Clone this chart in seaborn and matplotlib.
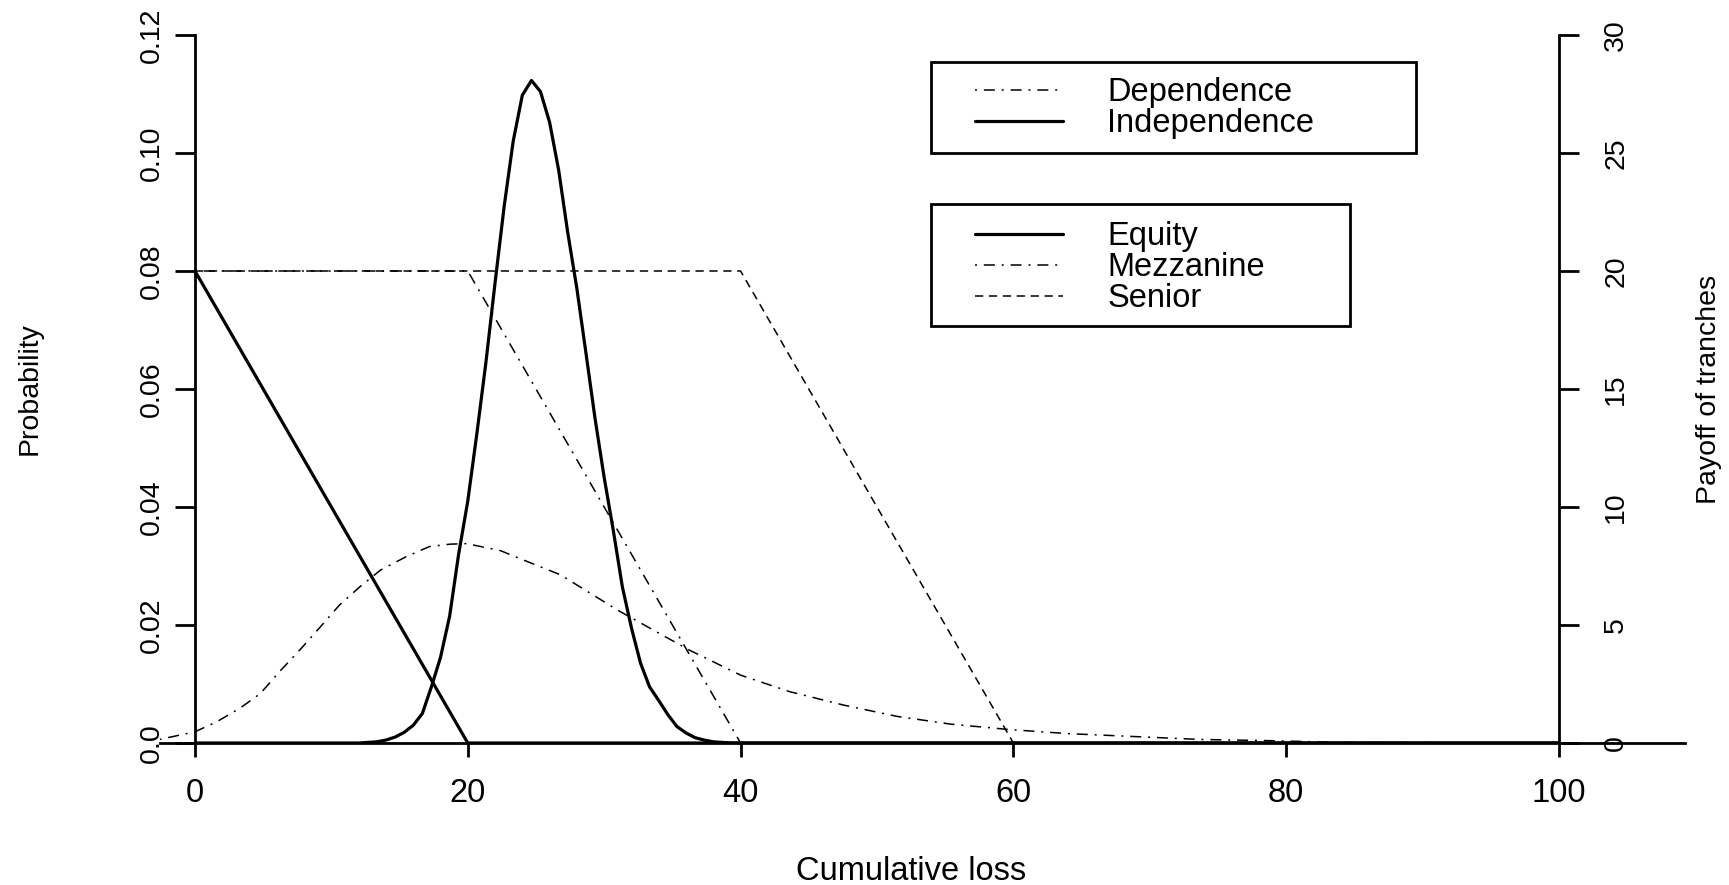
"""
Loss distribution vs. tranche payoffs
=====================================
Probability of the cumulative loss under dependence / independence
(left axis) together with the payoff of the CDO tranches (right axis).
"""

import matplotlib
matplotlib.use("Agg")  # no display
import matplotlib.pyplot as plt
from matplotlib.patches import Rectangle
import seaborn as sns

# ─── Data ─────────────────────────────────────────────────────────────
IND_LOSS = [0, 12.0, 12.67, 13.33, 14.0, 14.67, 15.33, 16.0, 16.67, 17.33,
            18.0, 18.67, 19.33, 20.0, 20.67, 21.33, 22.0, 22.67, 23.33, 24.0,
            24.67, 25.33, 26.0, 26.67, 27.33, 28.0, 28.67, 29.33, 30.0, 30.67,
            31.33, 32.0, 32.67, 33.33, 34.0, 34.67, 35.33, 36.0, 36.67, 37.33,
            38.0, 38.67, 39.33, 100]
IND_PROB = [0, 0.0, 0.0001, 0.0002, 0.0005, 0.0010, 0.0018, 0.0030, 0.0050, 0.0095,
            0.0145, 0.0215, 0.0320, 0.0410, 0.0525, 0.0645, 0.0780, 0.0910, 0.1020, 0.1098,
            0.1123, 0.1104, 0.1052, 0.0970, 0.0865, 0.0770, 0.0660, 0.0550, 0.0450, 0.0360,
            0.0265, 0.0195, 0.0135, 0.0095, 0.0072, 0.0048, 0.0028, 0.0017, 0.0009, 0.0005,
            0.0002, 0.0001, 0.0, 0.0]

DEP_LOSS = [-2.6, 0.0, 1.6, 3.3, 4.8, 6.2, 7.7, 9.2, 10.6, 12.1, 13.6, 15.5,
            17.2, 18.7, 19.9, 22.4, 24.1, 26.8, 31.0, 36.2, 40.0, 43.6, 47.6,
            51.5, 55.4, 59.6, 63.9, 68.8, 73.7, 78.7, 84.0, 100.0]
DEP_PROB = [0.0006, 0.0019, 0.0036, 0.0059, 0.0084, 0.0121, 0.0158, 0.0197,
            0.0234, 0.0265, 0.0293, 0.0316, 0.0333, 0.0337, 0.0338, 0.0326,
            0.0310, 0.0285, 0.0225, 0.0158, 0.0115, 0.0087, 0.0064, 0.0045,
            0.0032, 0.0023, 0.0016, 0.0011, 0.0006, 0.0004, 0.0001, 0.0]

EQUITY_LOSS = [0, 20, 100]
EQUITY_PAYOFF = [20, 0, 0]
MEZZ_LOSS = [0, 20, 40, 100]
MEZZ_PAYOFF = [20, 20, 0, 0]
SENIOR_LOSS = [0, 40, 60, 100]
SENIOR_PAYOFF = [20, 20, 0, 0]

X_TICKS = [0, 20, 40, 60, 80, 100]
X_TICK_LABELS = ["0", "20", "40", "60", "80", "100"]
PROB_TICKS = [0.0, 0.02, 0.04, 0.06, 0.08, 0.10, 0.12]
PROB_TICK_LABELS = ["0.0", "0.02", "0.04", "0.06", "0.08", "0.10", "0.12"]
PAYOFF_TICKS = [0, 5, 10, 15, 20, 25, 30]
PAYOFF_TICK_LABELS = ["0", "5", "10", "15", "20", "25", "30"]

# ─── Style ────────────────────────────────────────────────────────────
W, H = 1729, 885
THICK = 2.3
THIN = 1.1
DOTDASH = (0, (1.3, 4.5, 7.2, 4.5))
DASHED = (0, (5.4, 3.7))
TXT = 23.5     # horizontal text
ROT = 20.5     # rotated text

sns.set_theme(style="white", rc={
    "axes.edgecolor": "black", "text.color": "black",
    "xtick.color": "black", "ytick.color": "black",
    "axes.labelcolor": "black",
})
plt.rcParams["font.family"] = ["Liberation Sans", "DejaVu Sans"]

fig = plt.figure(figsize=(W / 100, H / 100), dpi=100)
ax = fig.add_axes([159.5 / W, (H - 743) / H, 1525 / W, 708 / H])
ax2 = ax.twinx()

# Loss distributions (left axis)
sns.lineplot(x=DEP_LOSS, y=DEP_PROB, ax=ax, color="black", linewidth=THIN,
             linestyle=DOTDASH, estimator=None, sort=False)
dep_line = ax.lines[-1]
sns.lineplot(x=IND_LOSS, y=IND_PROB, ax=ax, color="black", linewidth=THICK,
             estimator=None, sort=False)
ind_line = ax.lines[-1]

# Tranche payoffs (right axis)
sns.lineplot(x=EQUITY_LOSS, y=EQUITY_PAYOFF, ax=ax2, color="black",
             linewidth=THICK, estimator=None, sort=False)
eq_line = ax2.lines[-1]
sns.lineplot(x=MEZZ_LOSS, y=MEZZ_PAYOFF, ax=ax2, color="black",
             linewidth=THIN, linestyle=DOTDASH, estimator=None, sort=False)
mz_line = ax2.lines[-1]
sns.lineplot(x=SENIOR_LOSS, y=SENIOR_PAYOFF, ax=ax2, color="black",
             linewidth=THIN, linestyle=DASHED, estimator=None, sort=False)
sr_line = ax2.lines[-1]

for a in (ax, ax2):
    if a.get_legend() is not None:
        a.get_legend().remove()
    a.set_xlabel("")
    a.set_ylabel("")

ax.set_xlim(-2.6, 109.2)
ax.set_ylim(0, 0.12)
ax2.set_ylim(0, 30)

# Spines: R-like axes placed at x=0 and x=100
ax.spines["top"].set_visible(False)
ax.spines["right"].set_visible(False)
ax.spines["left"].set_position(("data", 0))
ax.spines["left"].set_linewidth(2)
ax.spines["bottom"].set_linewidth(2)
for side in ("left", "top", "bottom"):
    ax2.spines[side].set_visible(False)
ax2.spines["right"].set_position(("data", 100))
ax2.spines["right"].set_linewidth(2)

ax.set_xticks(X_TICKS, labels=X_TICK_LABELS)
ax.tick_params(axis="x", bottom=True, direction="out", length=10, width=2,
               pad=15, labelsize=TXT)
ax.set_yticks(PROB_TICKS, labels=PROB_TICK_LABELS, rotation=90, va="center")
ax.tick_params(axis="y", left=True, direction="out", length=14.4, width=2,
               pad=7, labelsize=ROT)
ax2.set_yticks(PAYOFF_TICKS, labels=PAYOFF_TICK_LABELS, rotation=90, va="center")
ax2.tick_params(axis="y", right=True, direction="out", length=14.4, width=2,
                pad=17.5, labelsize=ROT)

# Axis titles
fig.text(911 / W, 5 / H, "Cumulative loss", ha="center", va="baseline",
         fontsize=TXT)
fig.text(29.5 / W, 1 - 389 / H, "Probability", rotation=90, ha="center",
         va="center", fontsize=ROT)
fig.text(1709.5 / W, 1 - 389 / H, "Payoff of tranches", rotation=90,
         ha="center", va="center", fontsize=ROT)

# Legends (boxes drawn separately to get R-like padding)
leg_kw = dict(loc="upper left", frameon=False, fontsize=TXT, handlelength=2.7,
              handletextpad=1.35, borderpad=0, borderaxespad=0,
              labelspacing=0.0)
fig.legend([dep_line, ind_line], ["Dependence", "Independence"],
           bbox_to_anchor=(975 / W, 1 - 77 / H), **leg_kw)
fig.legend([eq_line, mz_line, sr_line], ["Equity", "Mezzanine", "Senior"],
           bbox_to_anchor=(975 / W, 1 - 221 / H), **leg_kw)
fig.add_artist(Rectangle((931 / W, 1 - 153 / H), 485 / W, 91 / H,
                         transform=fig.transFigure, fill=False,
                         edgecolor="black", linewidth=2))
fig.add_artist(Rectangle((931 / W, 1 - 326 / H), 419 / W, 122 / H,
                         transform=fig.transFigure, fill=False,
                         edgecolor="black", linewidth=2))

fig.savefig("out.png", dpi=100)
plt.close(fig)
